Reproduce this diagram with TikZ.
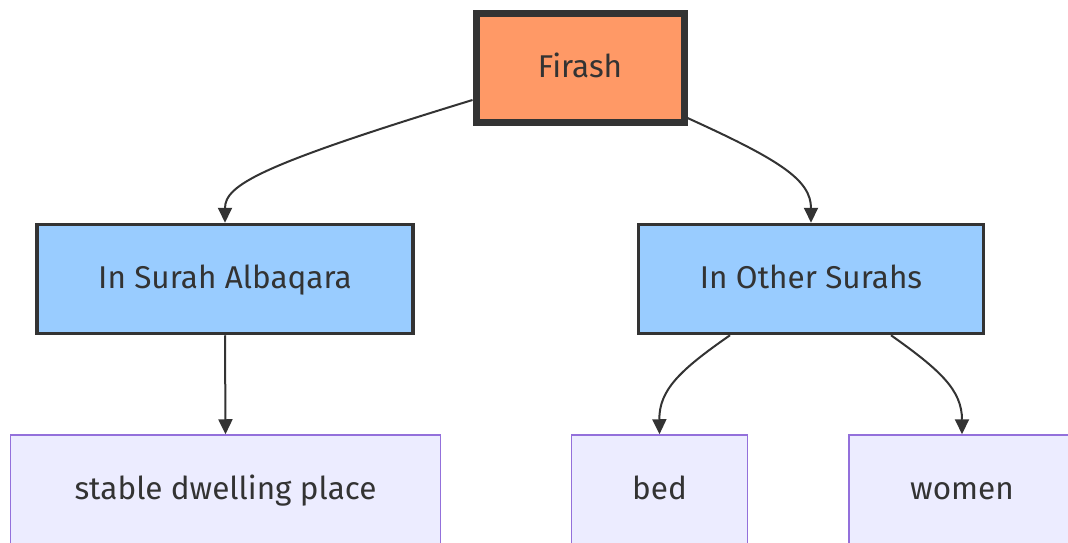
\documentclass[tikz,border=0pt]{standalone}
\usepackage{fontspec}
\setmainfont{Fira Sans}
\usetikzlibrary{arrows.meta,calc}
\definecolor{ink}{HTML}{333333}
\definecolor{rootfill}{HTML}{FF9966}
\definecolor{midfill}{HTML}{99CCFF}
\definecolor{leaffill}{HTML}{ECECFF}
\definecolor{leafline}{HTML}{9370DB}
\tikzset{
  x=1pt, y=1pt,
  every node/.style={font=\fontsize{31.5}{36}\selectfont, text=ink, inner sep=0pt,
    text height=25pt, text depth=6.6pt},
  rootbox/.style={draw=ink, fill=rootfill, line width=7pt, minimum width=208pt, minimum height=108pt},
  midbox/.style={draw=ink, fill=midfill, line width=3.5pt, minimum width=376pt, minimum height=109pt},
  leafbox/.style={draw=leafline, fill=leaffill, line width=1.5pt, minimum height=110pt},
  link/.style={draw=ink, line width=2pt, -{Triangle[length=15pt,width=14pt]}}
}
\begin{document}
\begin{tikzpicture}
\useasboundingbox (0,0) rectangle (1068,-543);
\node[rootbox] (f) at (580,-68) {Firash};
\node[midbox] (a) at (225,-279) {In Surah Albaqara};
\node[midbox, minimum width=345pt] (o) at (811,-279) {In Other Surahs};
\node[leafbox, minimum width=430pt] (s) at (225.5,-490) {stable dwelling place};
\node[leafbox, minimum width=176pt] (b) at (659.5,-490) {bed};
\node[leafbox, minimum width=226pt] (w) at (962,-490) {women};
% curved links from the root
\draw[link] ($(f.west)+(0,-32)$) .. controls (260,-165) and (225,-185) .. (a.north);
\draw[link] ($(f.east)+(0,-50)$) .. controls (780,-160) and (811,-180) .. (o.north);
% links to the leaves
\draw[link] (a.south) -- (s.north);
\draw[link] ($(o.south)+(-81,0)$) .. controls (680,-370) and (659,-390) .. (b.north);
\draw[link] ($(o.south)+(80,0)$) .. controls (940,-370) and (962,-390) .. (w.north);
\end{tikzpicture}
\end{document}
